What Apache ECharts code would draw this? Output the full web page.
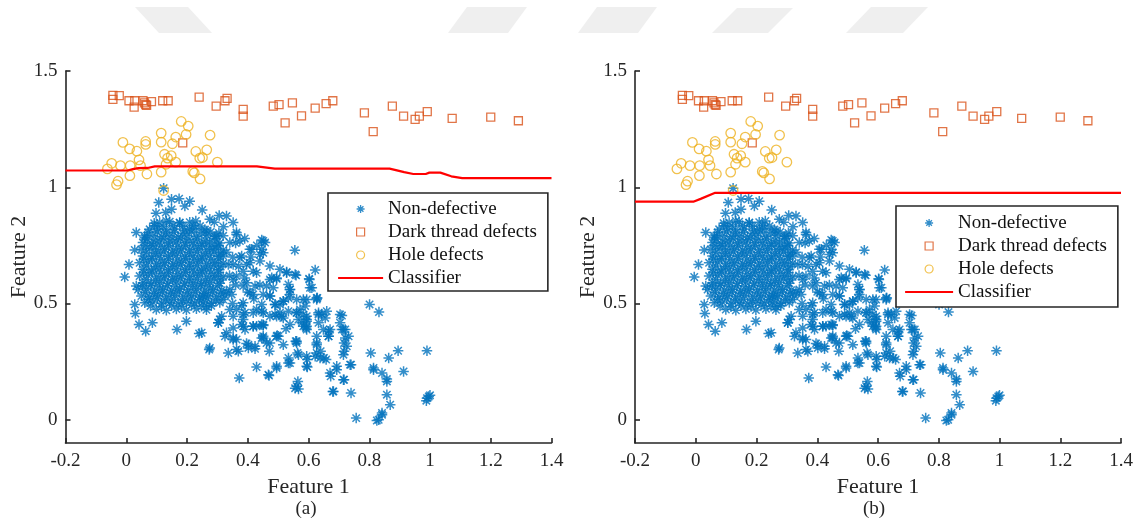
<!DOCTYPE html>
<html>
<head>
<meta charset="utf-8">
<script src="https://cdn.jsdelivr.net/npm/echarts@6/dist/echarts.min.js"></script>
<style>
  html, body { margin: 0; padding: 0; background: #ffffff; }
  #chart { width: 1141px; height: 524px; }
</style>
</head>
<body>
<div id="chart"></div>
<script>
// Axis ticks
const xTicks = [-0.2, 0, 0.2, 0.4, 0.6, 0.8, 1, 1.2, 1.4];
const yTicks = [0, 0.5, 1, 1.5];
const panelLabels = ['(a)', '(b)'];

// Non-defective samples [feature1, feature2]
const nonDefective = [
  // upper and left rim of the main cluster
  [0.107,0.934],[0.149,0.948],[0.174,0.951],[0.209,0.940],[0.250,0.902],[0.306,0.879],[0.330,0.876],
  [0.275,0.862],[0.229,0.855],[0.092,0.845],[0.098,0.888],[0.130,0.891],[0.149,0.905],[0.193,0.919],
  [0.033,0.805],[0.061,0.783],[0.028,0.730],[0.009,0.668],[-0.005,0.614],[0.033,0.575],[0.028,0.496],
  [0.030,0.457],[0.042,0.410],[0.086,0.417],[0.064,0.381],[0.167,0.388],[0.240,0.371],[0.198,0.424],
  [0.275,0.309],[0.123,0.996],
  // dense core
  [0.110,0.848],[0.143,0.852],[0.176,0.846],[0.209,0.850],
  [0.077,0.819],[0.105,0.822],[0.132,0.817],[0.160,0.820],[0.193,0.815],[0.226,0.821],[0.259,0.818],
  [0.061,0.790],[0.088,0.793],[0.116,0.788],[0.143,0.791],[0.171,0.786],[0.198,0.792],[0.231,0.789],[0.264,0.794],[0.292,0.787],[0.319,0.791],
  [0.055,0.762],[0.083,0.759],[0.110,0.764],[0.138,0.760],[0.165,0.765],[0.193,0.761],[0.220,0.763],[0.248,0.758],[0.275,0.764],[0.308,0.760],
  [0.050,0.733],[0.077,0.736],[0.099,0.731],[0.127,0.734],[0.154,0.730],[0.182,0.735],[0.209,0.732],[0.237,0.736],[0.264,0.731],[0.286,0.734],[0.319,0.730],
  [0.055,0.704],[0.083,0.701],[0.110,0.706],[0.138,0.703],[0.165,0.707],[0.193,0.702],[0.220,0.705],[0.248,0.700],[0.275,0.706],[0.303,0.703],
  [0.044,0.675],[0.072,0.678],[0.099,0.673],[0.127,0.676],[0.154,0.672],[0.182,0.677],[0.209,0.674],[0.237,0.678],[0.264,0.673],[0.292,0.676],[0.319,0.672],
  [0.055,0.647],[0.083,0.644],[0.110,0.649],[0.138,0.645],[0.165,0.650],[0.193,0.646],[0.220,0.648],[0.248,0.643],[0.275,0.649],[0.303,0.645],
  [0.044,0.618],[0.072,0.621],[0.099,0.616],[0.127,0.619],[0.154,0.615],[0.182,0.620],[0.209,0.617],[0.237,0.621],[0.264,0.616],[0.292,0.619],[0.319,0.615],
  [0.055,0.589],[0.083,0.586],[0.110,0.591],[0.138,0.587],[0.165,0.592],[0.193,0.588],[0.220,0.590],[0.248,0.585],[0.275,0.591],[0.308,0.587],
  [0.039,0.560],[0.066,0.563],[0.094,0.558],[0.121,0.561],[0.149,0.557],[0.176,0.562],[0.204,0.559],[0.231,0.563],[0.259,0.558],[0.286,0.561],[0.314,0.557],
  [0.050,0.532],[0.077,0.529],[0.105,0.534],[0.132,0.530],[0.160,0.535],[0.187,0.531],[0.215,0.533],[0.242,0.528],[0.270,0.534],[0.297,0.530],[0.325,0.533],
  [0.061,0.503],[0.088,0.506],[0.116,0.501],[0.143,0.504],[0.171,0.500],[0.198,0.505],[0.226,0.502],[0.253,0.506],[0.281,0.501],[0.308,0.504],
  [0.099,0.474],[0.132,0.471],[0.165,0.476],[0.198,0.472],[0.231,0.477],[0.264,0.473],
  // dense core, in-between samples
  [0.093,0.834],[0.121,0.831],[0.154,0.836],[0.187,0.832],[0.220,0.837],[0.243,0.833],
  [0.072,0.805],[0.102,0.808],[0.130,0.803],[0.157,0.806],[0.185,0.802],[0.214,0.807],[0.247,0.804],[0.278,0.808],[0.305,0.803],
  [0.069,0.776],[0.097,0.773],[0.124,0.778],[0.152,0.774],[0.179,0.779],[0.207,0.775],[0.234,0.777],[0.261,0.772],[0.292,0.778],
  [0.064,0.748],[0.088,0.751],[0.113,0.746],[0.140,0.749],[0.168,0.745],[0.196,0.750],[0.223,0.747],[0.250,0.751],[0.275,0.746],[0.303,0.749],
  [0.066,0.719],[0.097,0.716],[0.124,0.721],[0.152,0.717],[0.179,0.722],[0.207,0.718],[0.234,0.720],[0.261,0.715],[0.289,0.721],[0.311,0.717],
  [0.058,0.690],[0.085,0.693],[0.113,0.688],[0.140,0.691],[0.168,0.687],[0.196,0.692],[0.223,0.689],[0.250,0.693],[0.278,0.688],[0.305,0.691],
  [0.066,0.661],[0.097,0.658],[0.124,0.663],[0.152,0.659],[0.179,0.664],[0.207,0.660],[0.234,0.662],[0.261,0.657],[0.289,0.663],[0.311,0.659],
  [0.058,0.632],[0.085,0.635],[0.113,0.630],[0.140,0.633],[0.168,0.629],[0.196,0.634],[0.223,0.631],[0.250,0.635],[0.278,0.630],[0.305,0.633],
  [0.066,0.603],[0.097,0.600],[0.124,0.605],[0.152,0.601],[0.179,0.606],[0.207,0.602],[0.234,0.604],[0.261,0.599],[0.289,0.605],[0.311,0.601],
  [0.053,0.575],[0.080,0.578],[0.108,0.573],[0.135,0.576],[0.163,0.572],[0.190,0.577],[0.218,0.574],[0.245,0.578],[0.272,0.573],[0.300,0.576],
  [0.064,0.546],[0.091,0.543],[0.119,0.548],[0.146,0.544],[0.174,0.549],[0.201,0.545],[0.229,0.547],[0.256,0.542],[0.284,0.548],[0.311,0.544],
  [0.072,0.517],[0.102,0.520],[0.130,0.515],[0.157,0.518],[0.185,0.514],[0.212,0.519],[0.240,0.516],[0.267,0.520],[0.295,0.515],
  [0.080,0.489],[0.116,0.486],[0.149,0.491],[0.182,0.487],[0.215,0.492],[0.248,0.488],[0.280,0.490],
  // right flank of the cluster
  [0.446,0.773],[0.457,0.762],[0.555,0.729],[0.528,0.635],[0.559,0.621],[0.622,0.644],[0.602,0.606],[0.611,0.568],
  [0.479,0.611],[0.495,0.606],[0.539,0.560],[0.517,0.510],[0.583,0.517],[0.627,0.517],[0.407,0.733],[0.451,0.718],
  [0.440,0.683],[0.418,0.639],[0.396,0.668],[0.424,0.575],[0.385,0.575],[0.462,0.575],[0.473,0.532],[0.490,0.496],
  [0.429,0.474],[0.451,0.460],[0.517,0.438],[0.495,0.445],[0.561,0.460],[0.594,0.431],[0.539,0.410],[0.583,0.402],
  [0.418,0.402],[0.446,0.410],[0.385,0.402],[0.352,0.395],[0.330,0.374],[0.363,0.345],[0.396,0.328],[0.451,0.359],
  [0.473,0.330],[0.501,0.359],[0.561,0.338],[0.627,0.359],[0.627,0.323],[0.594,0.388],[0.314,0.445],[0.303,0.417],
  [0.352,0.445],[0.385,0.453],[0.319,0.517],[0.341,0.560],[0.363,0.618],[0.336,0.668],[0.380,0.704],[0.319,0.704],
  [0.297,0.747],[0.341,0.762],[0.297,0.790],[0.264,0.812],[0.209,0.819],[0.176,0.848],[0.132,0.855],[0.363,0.805],
  [0.352,0.848],
  [0.33,0.72],[0.35,0.70],[0.37,0.66],[0.34,0.62],[0.36,0.58],[0.39,0.61],[0.40,0.55],[0.33,0.55],[0.35,0.50],
  [0.38,0.49],[0.42,0.52],[0.44,0.58],[0.41,0.70],[0.43,0.75],[0.39,0.78],[0.36,0.76],[0.32,0.83],[0.29,0.85],
  // middle band
  [0.603,0.603],[0.605,0.568],[0.629,0.524],[0.451,0.769],[0.446,0.733],[0.440,0.711],[0.413,0.733],[0.374,0.769],
  [0.363,0.797],[0.528,0.632],[0.556,0.625],[0.495,0.610],[0.473,0.603],[0.539,0.560],[0.534,0.524],[0.589,0.489],
  [0.594,0.445],[0.578,0.417],[0.633,0.453],[0.660,0.467],[0.655,0.438],[0.710,0.448],[0.671,0.388],[0.666,0.359],
  [0.721,0.352],[0.710,0.388],[0.726,0.316],[0.737,0.237],[0.715,0.280],[0.693,0.230],[0.671,0.201],[0.715,0.172],
  [0.682,0.122],[0.814,0.223],[0.858,0.165],[0.842,0.029],[0.831,0.000],[0.990,0.093],[1.000,0.105],[0.495,0.230],
  [0.468,0.194],[0.539,0.244],[0.567,0.280],[0.534,0.266],[0.594,0.273],[0.627,0.287],[0.638,0.266],[0.594,0.230],
  [0.561,0.330],[0.517,0.323],[0.495,0.359],[0.462,0.330],[0.446,0.352],[0.424,0.316],[0.402,0.309],[0.363,0.302],
  [0.352,0.352],[0.391,0.388],[0.429,0.402],[0.451,0.409],[0.473,0.445],[0.506,0.460],[0.534,0.467],[0.567,0.431],
  [0.594,0.402],[0.633,0.417],[0.649,0.388],[0.704,0.417],[0.721,0.388],[0.363,0.474],[0.385,0.431],[0.418,0.460],
  [0.446,0.496],[0.490,0.496],[0.517,0.510],[0.561,0.517],[0.572,0.474],[0.407,0.546],[0.451,0.539],[0.484,0.568],
  [0.352,0.603],[0.396,0.589],[0.429,0.632],[0.473,0.661],[0.506,0.647],[0.534,0.582],[0.407,0.675],[0.385,0.639],
  [0.374,0.697],[0.352,0.668],
  // lower tail
  [0.273,0.302],[0.248,0.374],[0.372,0.180],[0.429,0.227],[0.470,0.190],[0.495,0.223],[0.534,0.244],[0.561,0.144],
  [0.567,0.132],[0.556,0.136],[0.565,0.165],[0.596,0.227],[0.596,0.259],[0.622,0.273],[0.651,0.266],[0.680,0.122],
  [0.740,0.115],[0.757,0.007],[0.825,-0.003],[0.842,0.022],[0.869,0.065],[0.858,0.108],[0.858,0.175],[0.842,0.201],
  [0.814,0.215],[0.913,0.208],[0.805,0.287],[0.864,0.266],[0.895,0.297],[0.990,0.297],[0.996,0.100],[0.988,0.082],
  [0.801,0.496],[0.832,0.463],[0.717,0.172],[0.693,0.215],[0.673,0.187],[0.740,0.237],[0.717,0.295],[0.717,0.330],
  [0.732,0.359],[0.715,0.388],[0.704,0.453],[0.658,0.259],[0.640,0.295],[0.627,0.330],[0.666,0.381],[0.666,0.359],
  [0.644,0.453],[0.633,0.460],[0.592,0.395],[0.594,0.424],[0.583,0.453],[0.561,0.460],[0.558,0.338],[0.564,0.287],
  [0.526,0.391],[0.497,0.362],[0.471,0.295],[0.451,0.352],[0.424,0.305],[0.402,0.323],[0.369,0.295],[0.336,0.287],
  [0.325,0.359],[0.352,0.345],[0.380,0.410],[0.418,0.402],[0.451,0.405],[0.490,0.453],[0.512,0.445],[0.506,0.496],
  [0.473,0.532],[0.446,0.467],[0.391,0.460],[0.341,0.474],[0.308,0.431],[0.303,0.417],[0.264,0.488],[0.253,0.532],
  [0.347,0.539],[0.385,0.503],[0.418,0.539],[0.539,0.539],[0.594,0.517],[0.627,0.524]
];

// Dark thread defects
const darkThread = [
  [-0.044,1.395],[-0.044,1.378],[-0.023,1.394],[0.009,1.372],[0.028,1.372],[0.026,1.345],
  [0.055,1.372],[0.060,1.363],[0.064,1.355],[0.067,1.352],[0.083,1.368],[0.120,1.372],[0.138,1.372],
  [0.240,1.388],[0.296,1.349],[0.325,1.372],[0.332,1.382],[0.385,1.335],[0.385,1.306],[0.484,1.349],
  [0.503,1.355],[0.547,1.363],[0.523,1.277],[0.577,1.307],[0.622,1.340],[0.658,1.360],[0.680,1.372],
  [0.784,1.320],[0.813,1.239],[0.876,1.349],[0.913,1.306],[0.951,1.292],[0.965,1.306],[0.991,1.325],
  [1.073,1.296],[1.200,1.302],[1.291,1.286],[0.186,1.191]
];

// Hole defects
const holeDefects = [
  [-0.062,1.079],[-0.048,1.103],[-0.019,1.093],[-0.027,1.026],[-0.032,1.011],[-0.011,1.193],[0.011,1.165],
  [0.035,1.155],[0.013,1.093],[0.012,1.050],[0.042,1.118],[0.047,1.093],[0.064,1.197],[0.064,1.184],
  [0.068,1.057],[0.115,1.233],[0.115,1.194],[0.115,1.065],[0.126,1.142],[0.136,1.125],[0.148,1.136],
  [0.131,1.099],[0.163,1.108],[0.152,1.187],[0.163,1.216],[0.181,1.283],[0.204,1.263],[0.197,1.227],
  [0.229,1.154],[0.242,1.125],[0.251,1.128],[0.265,1.161],[0.276,1.224],[0.300,1.108],[0.219,1.068],
  [0.224,1.062],[0.243,1.036],[0.123,0.986]
];

// Decision boundaries
const classifierA = [
  [-0.2,1.072],[0.004,1.072],[0.022,1.078],[0.040,1.082],[0.070,1.083],[0.094,1.090],[0.430,1.090],
  [0.435,1.085],[0.489,1.080],[0.867,1.080],[0.915,1.065],[0.945,1.057],[0.986,1.057],[0.998,1.063],
  [1.034,1.063],[1.070,1.047],[1.106,1.039],[1.4,1.039]
];
const classifierB = [
  [-0.2,0.938],[-0.008,0.938],[0.016,0.950],[0.064,0.976],[1.4,0.976]
];

const FONT = '"Liberation Serif", "Times New Roman", serif';
const AXIS = '#262626';
const C_STAR = '#0072BD';
const C_SQUARE = '#D95319';
const C_HOLE = '#EDB120';
const C_LINE = '#FF0000';
const STAR = 'path://M0,5L10,5M5,0L5,10M1.46,1.46L8.54,8.54M8.54,1.46L1.46,8.54';
const SQUARE = 'path://M0,0L10,0L10,10L0,10Z';
const CLEAR = 'rgba(0,0,0,0)';

const grids = [
  { left: 65.5, top: 71, width: 486, height: 372 },
  { left: 635, top: 71, width: 486, height: 372 }
];

function xAxisFor(i) {
  return {
    type: 'value', gridIndex: i, min: -0.2, max: 1.4,
    name: 'Feature 1', nameLocation: 'middle', nameGap: 30,
    nameTextStyle: { fontFamily: FONT, fontSize: 22, color: AXIS },
    axisLine: { onZero: false, lineStyle: { color: AXIS, width: 1.6 } },
    axisTick: { inside: true, length: 5, customValues: xTicks, lineStyle: { color: AXIS, width: 1.6 } },
    axisLabel: { customValues: xTicks, fontFamily: FONT, fontSize: 19, color: AXIS, margin: 9 },
    splitLine: { show: false }
  };
}
function yAxisFor(i) {
  return {
    type: 'value', gridIndex: i, min: -0.1, max: 1.5,
    name: 'Feature 2', nameLocation: 'middle', nameGap: 26, nameRotate: 90,
    nameTextStyle: { fontFamily: FONT, fontSize: 22, color: AXIS },
    axisLine: { onZero: false, lineStyle: { color: AXIS, width: 1.6 } },
    axisTick: { inside: true, length: 5, customValues: yTicks, lineStyle: { color: AXIS, width: 1.6 } },
    axisLabel: { customValues: yTicks, fontFamily: FONT, fontSize: 19, color: AXIS, margin: 8 },
    splitLine: { show: false }
  };
}
function seriesFor(i, boundary) {
  const common = { xAxisIndex: i, yAxisIndex: i, emphasis: { disabled: true }, animation: false };
  return [
    Object.assign({ type: 'scatter', name: 'Non-defective', data: nonDefective, symbol: STAR, symbolSize: 10.5,
      itemStyle: { color: CLEAR, borderColor: C_STAR, borderWidth: 1.5 } }, common),
    Object.assign({ type: 'scatter', name: 'Dark thread defects', data: darkThread, symbol: 'rect', symbolSize: 8,
      itemStyle: { color: CLEAR, borderColor: C_SQUARE, borderWidth: 1.3 } }, common),
    Object.assign({ type: 'scatter', name: 'Hole defects', data: holeDefects, symbol: 'circle', symbolSize: 9.5,
      itemStyle: { color: CLEAR, borderColor: C_HOLE, borderWidth: 1.3 } }, common),
    Object.assign({ type: 'line', name: 'Classifier', data: boundary, showSymbol: false, symbol: 'none',
      lineStyle: { color: C_LINE, width: 2.2 }, itemStyle: { color: C_LINE } }, common)
  ];
}
function legendFor(box) {
  return {
    orient: 'vertical', left: box.left, top: box.top, padding: box.padding,
    itemGap: 3, itemWidth: box.itemWidth, itemHeight: 8, selectedMode: false, symbolKeepAspect: true,
    backgroundColor: '#ffffff', borderColor: AXIS, borderWidth: 1.6, borderRadius: 0,
    textStyle: { fontFamily: FONT, fontSize: 19, lineHeight: 20, color: '#111111' },
    data: [
      { name: 'Non-defective', icon: STAR, itemStyle: { color: CLEAR, borderColor: C_STAR, borderWidth: 1.3 } },
      { name: 'Dark thread defects', icon: SQUARE, itemStyle: { color: CLEAR, borderColor: C_SQUARE, borderWidth: 1.2 } },
      { name: 'Hole defects', icon: 'circle', itemStyle: { color: CLEAR, borderColor: C_HOLE, borderWidth: 1.2 } },
      { name: 'Classifier', itemStyle: { color: CLEAR, borderColor: CLEAR, borderWidth: 0 },
        lineStyle: { color: C_LINE, width: 2.2 } }
    ]
  };
}

// faint banner shapes along the top edge
const bannerShapes = [
  [[135,7],[188,7],[212,33],[159,33]],
  [[467,7],[527,7],[508,33],[448,33]],
  [[597,7],[657,7],[638,33],[578,33]],
  [[737,8],[793,8],[768,33],[712,33]],
  [[871,7],[928,7],[903,33],[846,33]]
];

const chart = echarts.init(document.getElementById('chart'), null, { renderer: 'canvas' });
chart.setOption({
  backgroundColor: '#ffffff',
  animation: false,
  grid: grids.map(g => Object.assign({ outerBoundsMode: 'none', containLabel: false }, g)),
  xAxis: [xAxisFor(0), xAxisFor(1)],
  yAxis: [yAxisFor(0), yAxisFor(1)],
  legend: [
    legendFor({ left: 328, top: 193, padding: [6, 11, 3, 9], itemWidth: 45 }),
    legendFor({ left: 896, top: 206, padding: [7, 11, 5, 8], itemWidth: 48 })
  ],
  series: seriesFor(0, classifierA).concat(seriesFor(1, classifierB)),
  graphic: bannerShapes.map(pts => ({
    type: 'polygon', silent: true, z: -10, shape: { points: pts }, style: { fill: '#efefef' }
  })).concat([
    { type: 'text', x: 306, y: 509, silent: true,
      style: { text: panelLabels[0], align: 'center', verticalAlign: 'middle', fontFamily: FONT, fontSize: 19, fill: AXIS } },
    { type: 'text', x: 874, y: 509, silent: true,
      style: { text: panelLabels[1], align: 'center', verticalAlign: 'middle', fontFamily: FONT, fontSize: 19, fill: AXIS } }
  ])
});
</script>
</body>
</html>
